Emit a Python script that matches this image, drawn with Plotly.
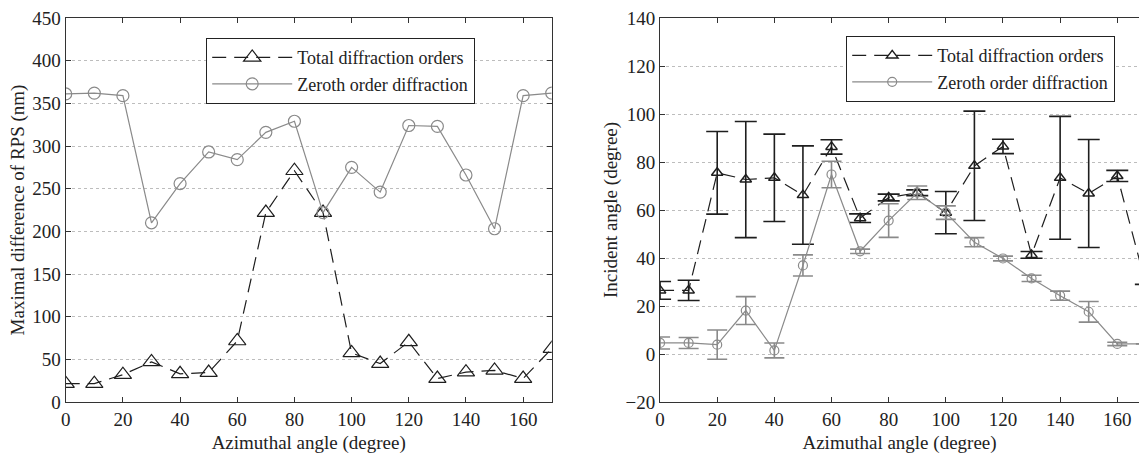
import plotly.graph_objects as go

# ---- Left panel data ----
azimuth = [0, 10, 20, 30, 40, 50, 60, 70, 80, 90, 100, 110, 120, 130, 140, 150, 160, 170]
rps_total = [21.5, 21.5, 32, 47, 33, 34.5, 71.5, 222, 271, 222, 57.5, 45, 70.5, 27.5, 35, 37, 27.5, 62.5]
rps_zeroth = [361, 362, 359, 210, 256, 293, 284, 316, 329, 222, 275, 246, 324, 323, 266, 203, 359, 362]

# ---- Right panel data ----
inc_total = [26.5, 26.5, 75.5, 72.7, 73.4, 66.2, 86.3, 56.6, 65.2, 67.2, 58.9, 78.4, 86.5, 41.3, 73.4, 66.9, 74.2, 29]
inc_total_err = [3.7, 4.2, 17.2, 24.2, 18.2, 20.5, 3.0, 1.8, 1.4, 1.2, 8.8, 22.8, 3.0, 1.4, 25.6, 22.5, 2.3, 0]
inc_zeroth = [4.6, 4.6, 3.9, 18.1, 1.5, 36.9, 74.8, 42.8, 55.6, 67.2, 58.9, 46.6, 39.8, 31.5, 24.3, 17.6, 4.2, 4.2]
inc_zeroth_err = [2.5, 2.3, 6.1, 5.8, 3.1, 4.4, 5.5, 0.9, 7.0, 2.8, 2.8, 1.9, 1.0, 1.3, 1.9, 4.3, 0.7, 0]

x_ticks = [0, 20, 40, 60, 80, 100, 120, 140, 160]

BLACK = "#1e1e1e"
GRAY = "#8a8a8a"
FONT = "Liberation Serif, Times New Roman, serif"
FS = 19
DASH = "14px,8px"

fig = go.Figure()

fig.add_trace(go.Scatter(
    x=azimuth, y=rps_total, mode="lines+markers", name="Total diffraction orders",
    line=dict(color=BLACK, width=1.2, dash=DASH),
    marker=dict(symbol="triangle-up-open", size=15, color=BLACK, line=dict(width=1.2)),
    xaxis="x", yaxis="y", legend="legend"))
fig.add_trace(go.Scatter(
    x=azimuth, y=rps_zeroth, mode="lines+markers", name="Zeroth order diffraction",
    line=dict(color=GRAY, width=1.2),
    marker=dict(symbol="circle-open", size=12, color=GRAY, line=dict(width=1.2)),
    xaxis="x", yaxis="y", legend="legend"))

fig.add_trace(go.Scatter(
    x=azimuth, y=inc_total, mode="lines+markers", name="Total diffraction orders",
    line=dict(color=BLACK, width=1.2, dash=DASH),
    marker=dict(symbol="triangle-up-open", size=10, color=BLACK, line=dict(width=1.5)),
    error_y=dict(type="data", array=inc_total_err, color=BLACK, thickness=1.6, width=11),
    xaxis="x2", yaxis="y2", legend="legend2"))
fig.add_trace(go.Scatter(
    x=azimuth, y=inc_zeroth, mode="lines+markers", name="Zeroth order diffraction",
    line=dict(color=GRAY, width=1.2),
    marker=dict(symbol="circle-open", size=9, color=GRAY, line=dict(width=1.2)),
    error_y=dict(type="data", array=inc_zeroth_err, color=GRAY, thickness=1.6, width=10),
    xaxis="x2", yaxis="y2", legend="legend2"))

axis_common = dict(
    showline=True, linecolor="#333333", linewidth=1.2,
    ticks="inside", ticklen=5, tickcolor="#333333", tickwidth=1.2,
    tickfont=dict(family=FONT, size=FS, color="#222222"),
    zeroline=False, automargin=False,
)
grid_y = dict(showgrid=True, gridcolor="#bdbdbd", griddash="dot", gridwidth=1)

legend_common = dict(xanchor="left", yanchor="top", bgcolor="white",
                     bordercolor="#222222", borderwidth=1.2, itemwidth=80,
                     font=dict(family=FONT, size=18, color="#222222"))

fig.update_layout(
    width=1139, height=454,
    margin=dict(l=0, r=0, t=18, b=52, autoexpand=False),
    paper_bgcolor="white", plot_bgcolor="white",
    font=dict(family=FONT, size=FS, color="#222222"),
    xaxis=dict(domain=[0.0577, 0.4844], range=[0, 170], tickvals=x_ticks,
               mirror="ticks", showgrid=False, anchor="y",
               title=dict(text="Azimuthal angle (degree)", font=dict(family=FONT, size=FS), standoff=6),
               **axis_common),
    yaxis=dict(domain=[0, 1], range=[0, 450], dtick=50, mirror="ticks", anchor="x",
               title=dict(text="Maximal difference of RPS (nm)", font=dict(family=FONT, size=FS), standoff=2),
               **grid_y, **axis_common),
    xaxis2=dict(domain=[0.5795, 1.0], range=[0, 167.6], tickvals=x_ticks,
                mirror="ticks", showgrid=False, anchor="y2",
                title=dict(text="Azimuthal angle (degree)", font=dict(family=FONT, size=FS), standoff=6),
                **axis_common),
    yaxis2=dict(domain=[0, 1], range=[-20, 140], dtick=20, mirror=False, anchor="x2",
                title=dict(text="Incident angle (degree)", font=dict(family=FONT, size=FS), standoff=2),
                **grid_y, **axis_common),
    legend=dict(x=206/1139, y=(402-38)/384, **legend_common),
    legend2=dict(x=846/1139, y=(402-36)/384, **legend_common),
)

fig.write_html("out.html")
